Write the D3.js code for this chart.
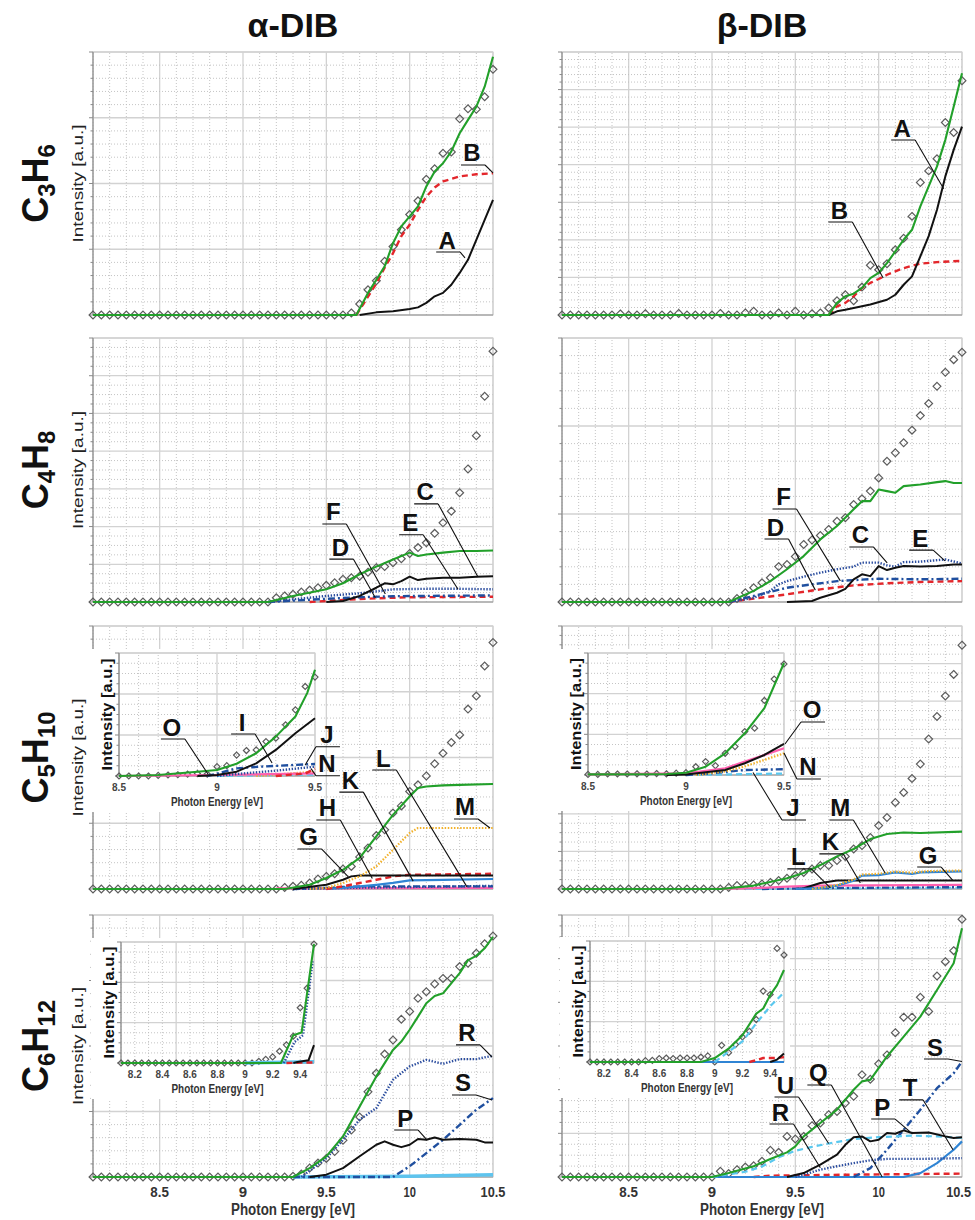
<!DOCTYPE html>
<html>
<head>
<meta charset="utf-8">
<script src="https://cdn.jsdelivr.net/npm/d3@7"></script>
<style>
  body { margin: 0; background: #fff; }
  svg text { font-family: "Liberation Sans", Arial, Helvetica, sans-serif; fill: #111; }
</style>
</head>
<body>
<svg id="fig" width="975" height="1220"></svg>
<script>
// ---------- data (intensity as fraction of the panel's full scale) ----------
const STEP = 0.05;                // experimental points every 0.05 eV
const MAIN_START = 8.1;
const columnTitles = ['α-DIB', 'β-DIB'];
const rowNames = [['C', '3', 'H', '6'], ['C', '4', 'H', '8'], ['C', '5', 'H', '10'], ['C', '6', 'H', '12']];
const mainTicks = [8.5, 9, 9.5, 10, 10.5];

// --- C3H6 ---
const c3h6AlphaPts = [0,0,0,0,0,0,0,0,0,0, 0,0,0,0,0,0,0,0,0,0, 0,0,0,0,0,0,0,0,0,0,
  0,0.008, 0.042,0.096,0.13,0.204,0.26,0.324,0.382,0.434,0.516,0.556,0.615,0.62,0.746,0.784,0.782,0.83,0.934];
const c3h6AlphaFit = [[8.1,0],[9.68,0],[9.75,0.084],[9.8,0.134],[9.85,0.185],[9.9,0.273],[9.95,0.337],[10,0.375],[10.05,0.413],[10.1,0.489],[10.15,0.546],[10.2,0.577],[10.25,0.622],[10.3,0.691],[10.35,0.742],[10.4,0.792],[10.45,0.868],[10.5,0.982]];
const c3h6AlphaB = [[9.68,0],[9.75,0.07],[9.8,0.12],[9.85,0.18],[9.9,0.235],[9.95,0.3],[10,0.343],[10.05,0.4],[10.1,0.45],[10.15,0.485],[10.2,0.508],[10.3,0.527],[10.4,0.535],[10.5,0.539]];
const c3h6AlphaA = [[9.7,0],[9.8,0.01],[9.9,0.014],[10,0.023],[10.05,0.029],[10.1,0.046],[10.15,0.071],[10.2,0.084],[10.25,0.115],[10.3,0.16],[10.35,0.21],[10.4,0.286],[10.45,0.362],[10.5,0.438]];
const c3h6AlphaLabels = [['B',10.374,0.616,10.5,0.54],['A',10.225,0.285,10.332,0.217]];

const c3h6BetaPts = [0,0,0,0,0,0,0,0.004,0,0, 0.005,0,0,0,0.006,0,0,0,0,0.006, 0,0,0.008,0.014,0,0,0.008,0,0.014,0,
  0.005,0.008, 0.027,0.054,0.077,0.054,0.106,0.189,0.172,0.195,0.248,0.292,0.375,0.504,0.548,0.594,0.732,0.694,0.891];
const c3h6BetaFit = [[8.1,0],[9.7,0],[9.75,0.046],[9.8,0.071],[9.85,0.081],[9.9,0.103],[9.95,0.14],[10,0.16],[10.05,0.197],[10.1,0.242],[10.15,0.286],[10.2,0.324],[10.25,0.413],[10.3,0.489],[10.35,0.565],[10.4,0.666],[10.45,0.792],[10.5,0.919]];
const c3h6BetaB = [[9.7,0],[9.75,0.033],[9.8,0.046],[9.85,0.071],[9.9,0.103],[9.95,0.122],[10,0.137],[10.05,0.153],[10.1,0.166],[10.15,0.178],[10.2,0.187],[10.25,0.195],[10.35,0.201],[10.5,0.206]];
const c3h6BetaA = [[9.7,0],[9.75,0.014],[9.8,0.02],[9.85,0.027],[9.95,0.04],[10.05,0.058],[10.1,0.077],[10.15,0.115],[10.2,0.147],[10.25,0.223],[10.3,0.3],[10.35,0.4],[10.4,0.527],[10.45,0.628],[10.5,0.716]];
const c3h6BetaLabels = [['A',10.141,0.711,10.39,0.48],['B',9.764,0.399,10.027,0.141]];

// --- C4H8 ---
const c4h8AlphaPts = [0,0,0,0,0,0,0,0,0,0, 0,0,0,0,0,0,0,0,0,0, 0,0,
  0.016,0.023,0.029,0.038,0.045,0.054,0.063,0.073,0.086,0.092,0.098,0.113,0.13,0.134,0.149,0.164,0.184,0.206,0.224,0.26,0.3,0.344,0.414,0.504,0.63,0.779,0.95];
const c4h8AlphaFit = [[8.1,0],[9.15,0],[9.3,0.023],[9.5,0.048],[9.6,0.071],[9.7,0.105],[9.8,0.134],[9.9,0.161],[10,0.187],[10.05,0.174],[10.1,0.18],[10.2,0.187],[10.3,0.193],[10.4,0.193],[10.5,0.195]];
const c4h8AlphaC = [[9.5,0],[9.6,0.004],[9.7,0.023],[9.8,0.054],[9.85,0.071],[9.9,0.067],[9.95,0.079],[10,0.096],[10.05,0.083],[10.1,0.088],[10.2,0.092],[10.3,0.092],[10.4,0.096],[10.5,0.098]];
const c4h8AlphaE = [[9.15,0],[9.3,0.01],[9.5,0.023],[9.7,0.033],[9.9,0.048],[10.1,0.05],[10.3,0.05],[10.5,0.048]];
const c4h8AlphaF = [[9.15,0],[9.5,0.012],[9.7,0.018],[9.9,0.022],[10.5,0.025]];
const c4h8AlphaD = [[9.4,0],[9.6,0.008],[9.8,0.014],[10,0.018],[10.5,0.02]];
const c4h8AlphaLabels = [['C',10.093,0.417,10.41,0.095],['E',10.003,0.3,10.29,0.048],['F',9.542,0.341,9.854,0.03],['D',9.584,0.208,9.794,0.016]];

const c4h8BetaPts = [0,0,0,0,0,0,0,0,0,0, 0,0,0,0,0,0,0,0,0,0, 0,
  0.013,0.035,0.054,0.073,0.092,0.134,0.142,0.172,0.218,0.235,0.252,0.275,0.306,0.319,0.369,0.391,0.42,0.47,0.533,0.565,0.603,0.651,0.706,0.752,0.817,0.87,0.918,0.946];
const c4h8BetaFit = [[8.1,0],[9.1,0],[9.25,0.042],[9.35,0.079],[9.45,0.124],[9.55,0.174],[9.65,0.237],[9.75,0.288],[9.85,0.351],[9.9,0.382],[9.95,0.382],[10,0.426],[10.05,0.42],[10.1,0.414],[10.15,0.439],[10.25,0.445],[10.35,0.454],[10.4,0.458],[10.45,0.451],[10.5,0.451]];
const c4h8BetaE = [[9.1,0],[9.25,0.016],[9.35,0.042],[9.4,0.067],[9.45,0.079],[9.55,0.096],[9.65,0.111],[9.75,0.124],[9.85,0.134],[9.9,0.149],[10,0.149],[10.05,0.139],[10.1,0.134],[10.15,0.151],[10.25,0.153],[10.4,0.161],[10.5,0.146]];
const c4h8BetaC = [[9.45,0],[9.6,0.004],[9.65,0.016],[9.75,0.035],[9.8,0.05],[9.85,0.086],[9.9,0.105],[9.95,0.098],[10,0.136],[10.05,0.121],[10.1,0.13],[10.15,0.136],[10.25,0.134],[10.35,0.136],[10.45,0.142],[10.5,0.142]];
const c4h8BetaF = [[9.1,0],[9.25,0.023],[9.45,0.054],[9.6,0.067],[9.75,0.079],[9.85,0.083],[10,0.088],[10.25,0.086],[10.5,0.088]];
const c4h8BetaD = [[9.1,0],[9.25,0.013],[9.45,0.029],[9.65,0.048],[9.85,0.063],[10.05,0.071],[10.25,0.076],[10.5,0.079]];
const c4h8BetaLabels = [['F',9.429,0.398,9.77,0.08],['D',9.381,0.284,9.62,0.045],['C',9.89,0.254,10.051,0.148],['E',10.249,0.242,10.398,0.156]];

// --- C5H10 ---
const c5h10AlphaPts = [0,0,0,0,0,0,0,0,0,0, 0,0,0,0,0,0,0,0,0,0, 0,0,0,
  0.006,0.01,0.014,0.023,0.038,0.048,0.058,0.076,0.086,0.122,0.156,0.203,0.225,0.289,0.316,0.371,0.396,0.43,0.476,0.516,0.557,0.586,0.684,0.734,0.848,0.937];
const c5h10AlphaFit = [[8.1,0],[9.25,0],[9.4,0.016],[9.5,0.042],[9.6,0.073],[9.7,0.118],[9.8,0.2],[9.9,0.282],[10,0.352],[10.05,0.384],[10.1,0.39],[10.2,0.394],[10.3,0.396],[10.5,0.399]];
const c5h10AlphaM = [[9.4,0],[9.5,0.004],[9.6,0.023],[9.7,0.048],[9.8,0.086],[9.9,0.149],[10,0.213],[10.05,0.232],[10.1,0.232],[10.5,0.232]];
const c5h10AlphaG = [[9.3,0],[9.5,0.016],[9.6,0.035],[9.65,0.048],[9.7,0.051],[10.5,0.051]];
const c5h10AlphaH = [[9.5,0],[9.6,0.01],[9.7,0.023],[9.8,0.035],[9.9,0.048],[10,0.054],[10.5,0.058]];
const c5h10AlphaK = [[9.5,0],[9.6,0.004],[9.8,0.016],[9.9,0.023],[10,0.033],[10.2,0.035],[10.5,0.038]];
const c5h10AlphaL = [[9.3,0],[9.5,0.004],[9.7,0.01],[10.5,0.01]];
const c5h10AlphaN = [[9.3,0],[9.7,0.005],[10.5,0.012]];
const c5h10AlphaO = [[9.2,0.002],[10.5,0.004]];
const c5h10AlphaLabels = [['L',9.842,0.498,10.344,0.008],['K',9.644,0.414,10.021,0.03],['H',9.506,0.308,9.776,0.04],['G',9.393,0.198,9.632,0.046],['M',10.332,0.312,10.482,0.232]];

const c5h10AlphaInsetPts = [0,0,0,0,0.005,0.008,0.01,0.015,0.02,0.016,0.076,0.084,0.17,0.207,0.212,0.28,0.307,0.416,0.538,0.728,0.804];
const c5h10AlphaInsetFit = [[8.5,0],[8.7,0.008],[8.9,0.035],[9,0.049],[9.1,0.1],[9.2,0.185],[9.3,0.32],[9.4,0.484],[9.46,0.674],[9.5,0.864]];
const c5h10AlphaInsetI = [[8.9,0],[9,0.008],[9.1,0.035],[9.2,0.103],[9.3,0.212],[9.4,0.348],[9.5,0.47]];
const c5h10AlphaInsetJ = [[8.95,0],[9,0.02],[9.1,0.062],[9.22,0.076],[9.5,0.098]];
const c5h10AlphaInsetN = [[9,0],[9.1,0.016],[9.3,0.043],[9.5,0.076]];
const c5h10AlphaInsetO = [[8.5,0],[9,0.008],[9.5,0.022]];
const c5h10AlphaInsetRed = [[9.3,0],[9.45,0.02],[9.5,0.06]];
const c5h10AlphaInsetOrange = [[9.2,0],[9.5,0.035]];
const c5h10AlphaInsetCyan = [[9,0],[9.5,0.012]];
const c5h10AlphaInsetLabels = [['O',8.77,0.398,8.954,0.016],['I',9.128,0.439,9.281,0.106],['J',9.561,0.335,9.45,0.09],['N',9.561,0.1,9.48,0.06]];

const c5h10BetaPts = [0,0,0,0,0,0,0,0,0,0, 0,0,0,0,0,0,0,0,0,0,
  0.006,0.013,0.013,0.015,0.019,0.025,0.032,0.041,0.051,0.063,0.076,0.089,0.089,0.108,0.124,0.152,0.165,0.196,0.241,0.272,0.329,0.367,0.42,0.475,0.57,0.656,0.734,0.816,0.927];
const c5h10BetaFit = [[8.1,0],[9.05,0],[9.25,0.013],[9.45,0.041],[9.55,0.061],[9.65,0.091],[9.75,0.124],[9.85,0.152],[9.95,0.19],[10.05,0.209],[10.15,0.215],[10.25,0.213],[10.5,0.218]];
const c5h10BetaK = [[9.5,0],[9.65,0.003],[9.75,0.013],[9.85,0.032],[9.9,0.051],[10,0.053],[10.1,0.063],[10.2,0.057],[10.25,0.063],[10.5,0.067]];
const c5h10BetaM = [[9.6,0],[9.75,0.015],[9.85,0.036],[9.9,0.055],[10,0.058],[10.1,0.066],[10.2,0.062],[10.3,0.068],[10.5,0.07]];
const c5h10BetaG = [[9.5,0],[9.55,0.003],[9.65,0.023],[9.75,0.032],[10.5,0.032]];
const c5h10BetaPink = [[9,0],[9.25,0.003],[9.45,0.009],[9.65,0.013],[10.5,0.016]];
const c5h10BetaCyan = [[9.2,0],[10.5,0.005]];
const c5h10BetaL = [[9.3,0],[9.7,0.004],[10.5,0.007]];
const c5h10BetaLabels = [['M',9.77,0.308,10.039,0.061],['K',9.71,0.179,9.89,0.023],['L',9.518,0.122,9.71,0.004],['G',10.297,0.129,10.446,0.032]];

const c5h10BetaInsetPts = [0.005,0.005,0.008,0.008,0.008,0.01,0.008,0.012,0.01,0.015,0.019,0.068,0.11,0.077,0.178,0.233,0.356,0.384,0.611,0.786,0.91];
const c5h10BetaInsetFit = [[8.5,0.005],[8.9,0.008],[9,0.019],[9.1,0.068],[9.2,0.178],[9.3,0.342],[9.4,0.548],[9.5,0.918]];
const c5h10BetaInsetO = [[8.9,0],[9,0.005],[9.2,0.041],[9.3,0.096],[9.4,0.164],[9.5,0.255]];
const c5h10BetaInsetPink = [[8.5,0.005],[9,0.014],[9.2,0.055],[9.3,0.11],[9.5,0.219]];
const c5h10BetaInsetN = [[9.05,0],[9.2,0.03],[9.3,0.07],[9.5,0.178]];
const c5h10BetaInsetJ = [[9,0],[9.1,0.01],[9.3,0.041],[9.5,0.047]];
const c5h10BetaInsetCyan = [[9,0],[9.5,0.012]];
const c5h10BetaInsetLabels = [['O',9.643,0.533,9.505,0.254],['N',9.622,0.066,9.5,0.18],['J',9.546,-0.27,9.342,0.02]];

// --- C6H12 ---
const c6h12AlphaPts = [0,0,0,0,0,0,0,0,0,0, 0,0,0,0,0,0,0,0,0,0, 0,0,0,0,
  0.003,0.011,0.034,0.053,0.071,0.097,0.14,0.179,0.229,0.325,0.396,0.469,0.523,0.602,0.632,0.682,0.707,0.737,0.758,0.758,0.803,0.816,0.854,0.89,0.92];
const c6h12AlphaFit = [[8.1,0],[9.3,0],[9.4,0.034],[9.5,0.079],[9.6,0.155],[9.7,0.269],[9.8,0.384],[9.9,0.485],[9.95,0.517],[10,0.562],[10.05,0.612],[10.1,0.663],[10.15,0.691],[10.2,0.701],[10.3,0.778],[10.35,0.828],[10.4,0.844],[10.45,0.873],[10.5,0.917]];
const c6h12AlphaR = [[9.35,0],[9.5,0.072],[9.6,0.142],[9.7,0.219],[9.8,0.263],[9.9,0.371],[10,0.422],[10.1,0.447],[10.2,0.432],[10.3,0.45],[10.4,0.45],[10.5,0.463]];
const c6h12AlphaP = [[9.4,0],[9.5,0.009],[9.6,0.034],[9.7,0.079],[9.8,0.123],[9.85,0.136],[9.9,0.123],[9.95,0.114],[10,0.123],[10.05,0.145],[10.1,0.142],[10.15,0.151],[10.2,0.142],[10.3,0.145],[10.4,0.142],[10.45,0.132],[10.5,0.132]];
const c6h12AlphaS = [[9.3,0],[9.9,0],[10,0.041],[10.1,0.091],[10.2,0.142],[10.3,0.199],[10.4,0.257],[10.5,0.301]];
const c6h12AlphaSky = [[9.3,0],[10,0.003],[10.5,0.009]];
const c6h12AlphaLabels = [['R',10.344,0.55,10.494,0.458],['S',10.32,0.359,10.494,0.294],['P',9.973,0.225,10.105,0.141]];

const c6h12AlphaInsetPts = [0,0,0,0,0,0,0,0,0,0, 0,0,0,0,0,0,0,0,0,0,
  0.014,0.03,0.05,0.097,0.15,0.222,0.457,0.618,0.983];
const c6h12AlphaInsetFit = [[8.1,0],[9.26,0],[9.35,0.23],[9.41,0.252],[9.5,0.983]];
const c6h12AlphaInsetR = [[9.28,0],[9.36,0.175],[9.42,0.23],[9.49,0.84]];
const c6h12AlphaInsetP = [[9.35,0],[9.38,0.008],[9.46,0.022],[9.5,0.147]];
const c6h12AlphaInsetSky = [[9,0],[9.5,0.01]];
const c6h12AlphaInsetRed = [[9.3,0],[9.5,0.005]];

const c6h12BetaPts = [0,0,0,0,0,0,0,0,0,0, 0,0,0,0,0,0,0,0,0,
  0.022,0.013,0.028,0.038,0.043,0.06,0.102,0.094,0.155,0.145,0.155,0.196,0.206,0.238,0.25,0.282,0.308,0.39,0.373,0.432,0.466,0.551,0.61,0.61,0.686,0.632,0.767,0.822,0.864,0.984];
const c6h12BetaFit = [[8.1,0],[9,0],[9.1,0.015],[9.25,0.041],[9.35,0.069],[9.45,0.094],[9.5,0.117],[9.55,0.155],[9.65,0.206],[9.75,0.257],[9.85,0.333],[9.9,0.365],[9.95,0.371],[10.05,0.46],[10.15,0.536],[10.25,0.612],[10.35,0.714],[10.45,0.816],[10.5,0.949]];
const c6h12BetaU = [[9,0],[9.2,0.02],[9.3,0.04],[9.4,0.075],[9.5,0.1],[9.6,0.115],[9.7,0.128],[9.85,0.145],[10,0.152],[10.2,0.158],[10.35,0.155],[10.5,0.149]];
const c6h12BetaQ = [[9.45,0],[9.55,0.015],[9.65,0.047],[9.75,0.085],[9.8,0.123],[9.85,0.152],[9.9,0.155],[9.95,0.136],[10,0.142],[10.05,0.168],[10.1,0.165],[10.15,0.178],[10.2,0.168],[10.3,0.17],[10.4,0.155],[10.45,0.149],[10.5,0.152]];
const c6h12BetaR = [[9.5,0],[9.65,0.028],[9.75,0.041],[9.85,0.053],[9.95,0.064],[10.05,0.069],[10.25,0.069],[10.5,0.072]];
const c6h12BetaS = [[9.85,0],[9.95,0.034],[10.05,0.104],[10.15,0.18],[10.25,0.257],[10.35,0.339],[10.45,0.396],[10.5,0.441]];
const c6h12BetaT = [[9,0],[10.15,0],[10.25,0.015],[10.35,0.053],[10.45,0.104],[10.5,0.136]];
const c6h12BetaRed = [[9.25,0],[9.35,0.005],[9.85,0.009],[10.5,0.013]];
const c6h12BetaLabels = [['S',10.338,0.496,10.5,0.441],['T',10.189,0.34,10.446,0.104],['P',10.021,0.267,10.189,0.172],['Q',9.638,0.397,10.021,0],['U',9.441,0.351,9.7,0.128],['R',9.411,0.248,9.65,0.035]];

const c6h12BetaInsetPts = [0,0,0,0,0,0,0,0,
  0.011,0.014,0.028,0.033,0.028,0.033,0.033,0.033,0.041,0.05,0,0.138,0.077,0.144,0.207,0.254,0.351,0.586,0.558,0.939,0.884];
const c6h12BetaInsetFit = [[8.1,0],[8.9,0],[9,0.033],[9.1,0.11],[9.2,0.221],[9.3,0.4],[9.35,0.442],[9.4,0.552],[9.45,0.635],[9.5,0.76]];
const c6h12BetaInsetU = [[9,0],[9.2,0.17],[9.3,0.32],[9.35,0.39],[9.4,0.46],[9.5,0.575]];
const c6h12BetaInsetRed = [[9.25,0],[9.3,0.015],[9.35,0.033],[9.45,0.033],[9.5,0.04]];
const c6h12BetaInsetQ = [[9.4,0],[9.45,0.02],[9.5,0.07]];
const c6h12BetaInsetT = [[8.9,0],[9.5,0]];

const insetTicksWide = [8.2, 8.4, 8.6, 8.8, 9, 9.2, 9.4];
const insetTicksNarrow = [8.5, 9, 9.5];

// ---------- styles ----------
const STYLE = {
  green:   { stroke: '#22a02a', width: 2.1 },
  black:   { stroke: '#111111', width: 2 },
  red:     { stroke: '#e3262b', width: 2.4, dash: '6,4' },
  navyDot: { stroke: '#2a4c9e', width: 2.4, dash: '1.4,1.6' },
  navyDD:  { stroke: '#1f4f9f', width: 2.4, dash: '7,3,2,3' },
  blue:    { stroke: '#2f84d4', width: 2.2 },
  cyan:    { stroke: '#5ac8ef', width: 2.2, dash: '6,4' },
  orange:  { stroke: '#f2b12a', width: 2.2, dash: '1.5,1.6' },
  pink:    { stroke: '#ff5fae', width: 2.2 },
  sky:     { stroke: '#5ec4ee', width: 3.5 }
};

const COLS = [{ x: 93, w: 400 }, { x: 562, w: 400 }];
const ROWS = [{ y: 52, h: 263 }, { y: 338, h: 264 }, { y: 626, h: 263 }, { y: 915, h: 262 }];
const PAGE_W = 975;

const panels = [
  { r: 0, c: 0, pts: c3h6AlphaPts, yDiv: 4, yMinor: 5, labels: c3h6AlphaLabels,
    series: [['red', c3h6AlphaB], ['black', c3h6AlphaA], ['green', c3h6AlphaFit]] },
  { r: 0, c: 1, pts: c3h6BetaPts, yDiv: 7, yMinor: 5, labels: c3h6BetaLabels,
    series: [['red', c3h6BetaB], ['black', c3h6BetaA], ['green', c3h6BetaFit]] },
  { r: 1, c: 0, pts: c4h8AlphaPts, yDiv: 7, yMinor: 4, labels: c4h8AlphaLabels,
    series: [['red', c4h8AlphaD], ['navyDD', c4h8AlphaF], ['navyDot', c4h8AlphaE], ['black', c4h8AlphaC], ['green', c4h8AlphaFit]] },
  { r: 1, c: 1, pts: c4h8BetaPts, yDiv: 3, yMinor: 5, labels: c4h8BetaLabels,
    series: [['red', c4h8BetaD], ['navyDD', c4h8BetaF], ['navyDot', c4h8BetaE], ['black', c4h8BetaC], ['green', c4h8BetaFit]] },
  { r: 2, c: 0, pts: c5h10AlphaPts, yDiv: 4, yMinor: 5, labels: c5h10AlphaLabels,
    series: [['pink', c5h10AlphaO], ['navyDot', c5h10AlphaN], ['navyDD', c5h10AlphaL], ['blue', c5h10AlphaK],
             ['red', c5h10AlphaH], ['black', c5h10AlphaG], ['orange', c5h10AlphaM], ['green', c5h10AlphaFit]],
    inset: { box: { x: 119, y: 653, w: 196, h: 123 }, domain: [8.5, 9.5], ticks: insetTicksNarrow, pts: c5h10AlphaInsetPts,
      labels: c5h10AlphaInsetLabels,
      series: [['cyan', c5h10AlphaInsetCyan], ['orange', c5h10AlphaInsetOrange], ['pink', c5h10AlphaInsetO], ['red', c5h10AlphaInsetRed],
               ['navyDot', c5h10AlphaInsetN], ['navyDD', c5h10AlphaInsetJ], ['black', c5h10AlphaInsetI], ['green', c5h10AlphaInsetFit]] } },
  { r: 2, c: 1, pts: c5h10BetaPts, yDiv: 7, yMinor: 4, labels: c5h10BetaLabels,
    series: [['cyan', c5h10BetaCyan], ['navyDD', c5h10BetaL], ['pink', c5h10BetaPink], ['black', c5h10BetaG],
             ['blue', c5h10BetaK], ['orange', c5h10BetaM], ['green', c5h10BetaFit]],
    inset: { box: { x: 588, y: 653, w: 196, h: 122 }, domain: [8.5, 9.5], ticks: insetTicksNarrow, pts: c5h10BetaInsetPts,
      labels: c5h10BetaInsetLabels,
      series: [['cyan', c5h10BetaInsetCyan], ['navyDD', c5h10BetaInsetJ], ['orange', c5h10BetaInsetN], ['pink', c5h10BetaInsetPink],
               ['black', c5h10BetaInsetO], ['green', c5h10BetaInsetFit]] } },
  { r: 3, c: 0, pts: c6h12AlphaPts, yDiv: 4, yMinor: 5, labels: c6h12AlphaLabels,
    series: [['sky', c6h12AlphaSky], ['navyDD', c6h12AlphaS], ['black', c6h12AlphaP], ['navyDot', c6h12AlphaR], ['green', c6h12AlphaFit]],
    inset: { box: { x: 121, y: 942, w: 193, h: 121 }, domain: [8.1, 9.5], ticks: insetTicksWide, pts: c6h12AlphaInsetPts,
      labels: [],
      series: [['sky', c6h12AlphaInsetSky], ['red', c6h12AlphaInsetRed], ['black', c6h12AlphaInsetP],
               ['navyDot', c6h12AlphaInsetR], ['green', c6h12AlphaInsetFit]] } },
  { r: 3, c: 1, pts: c6h12BetaPts, yDiv: 6, yMinor: 4, labels: c6h12BetaLabels,
    series: [['red', c6h12BetaRed], ['blue', c6h12BetaT], ['navyDD', c6h12BetaS], ['navyDot', c6h12BetaR],
             ['cyan', c6h12BetaU], ['black', c6h12BetaQ], ['green', c6h12BetaFit]],
    inset: { box: { x: 590, y: 941, w: 194, h: 121 }, domain: [8.1, 9.5], ticks: insetTicksWide, pts: c6h12BetaInsetPts,
      labels: [],
      series: [['blue', c6h12BetaInsetT], ['red', c6h12BetaInsetRed], ['black', c6h12BetaInsetQ],
               ['cyan', c6h12BetaInsetU], ['green', c6h12BetaInsetFit]] } }
];

// ---------- drawing ----------
const svg = d3.select('#fig');

function drawGrid(g, x, y, yDiv, yMinor) {
  const [x0, x1] = x.domain();
  const xs = d3.range(Math.round(x0 * 10), Math.round(x1 * 10) + 1);
  g.append('g').selectAll('line').data(xs).join('line')
    .attr('x1', d => x(d / 10)).attr('x2', d => x(d / 10))
    .attr('y1', y(0)).attr('y2', y(1))
    .attr('stroke', d => d % 5 === 0 ? '#d2d2d2' : '#bdbdbd')
    .attr('stroke-width', d => d % 5 === 0 ? 1.3 : 0.9)
    .attr('stroke-dasharray', d => d % 5 === 0 ? null : '1,2');
  const n = yDiv * yMinor;
  g.append('g').selectAll('line').data(d3.range(1, n + 1)).join('line')
    .attr('x1', x(x0)).attr('x2', x(x1))
    .attr('y1', k => y(k / n)).attr('y2', k => y(k / n))
    .attr('stroke', k => k % yMinor === 0 ? '#d2d2d2' : '#bdbdbd')
    .attr('stroke-width', k => k % yMinor === 0 ? 1.3 : 0.9)
    .attr('stroke-dasharray', k => k % yMinor === 0 ? null : '1,2');
  // frame
  g.append('rect')
    .attr('x', x(x0)).attr('y', y(1))
    .attr('width', x(x1) - x(x0)).attr('height', y(0) - y(1))
    .attr('fill', 'none').attr('stroke', '#cfcfcf');
  // left and bottom axis lines, left ticks
  g.append('line').attr('x1', x(x0)).attr('x2', x(x0)).attr('y1', y(0)).attr('y2', y(1))
    .attr('stroke', '#8a8a8a').attr('stroke-width', 1.2);
  g.append('line').attr('x1', x(x0)).attr('x2', x(x1)).attr('y1', y(0)).attr('y2', y(0))
    .attr('stroke', '#8a8a8a').attr('stroke-width', 1.2);
  g.append('g').selectAll('line').data(d3.range(0, n + 1)).join('line')
    .attr('x1', x(x0)).attr('x2', k => x(x0) - (k % yMinor === 0 ? 4 : 2.5))
    .attr('y1', k => y(k / n)).attr('y2', k => y(k / n))
    .attr('stroke', '#8a8a8a');
}

function drawDiamonds(g, x, y, pts, start, r) {
  g.append('g').selectAll('path').data(pts).join('path')
    .attr('d', `M0,${-r}L${r},0L0,${r}L${-r},0Z`)
    .attr('transform', (d, i) => `translate(${x(start + i * STEP)},${y(d)})`)
    .attr('fill', 'none').attr('stroke', '#5c5c5c').attr('stroke-width', 1.2);
}

function drawSeries(g, x, y, series) {
  const line = d3.line().x(d => x(d[0])).y(d => y(d[1]));
  series.forEach(([key, data]) => {
    const s = STYLE[key];
    g.append('path').datum(data).attr('d', line)
      .attr('fill', 'none').attr('stroke', s.stroke).attr('stroke-width', s.width)
      .attr('stroke-dasharray', s.dash || null)
      .attr('stroke-linejoin', 'round');
  });
}

function drawLabels(g, x, y, labels) {
  labels.forEach(([t, lx, ly, tx, ty]) => {
    const cx = x(lx), cy = y(ly), px = x(tx), py = y(ty);
    g.append('text').attr('x', cx).attr('y', cy + 8.5)
      .attr('text-anchor', 'middle').attr('font-size', 24).attr('font-weight', 'bold')
      .text(t);
    const ux0 = cx - 11, ux1 = cx + 13, uy = cy + 12;
    const sx = px < cx ? ux0 : ux1;
    g.append('path').attr('d', `M${ux0},${uy}H${ux1}M${sx},${uy}L${px},${py}`)
      .attr('fill', 'none').attr('stroke', '#111').attr('stroke-width', 1.1);
  });
}

function drawInset(g, inset) {
  const b = inset.box;
  const x = d3.scaleLinear().domain(inset.domain).range([b.x, b.x + b.w]);
  const y = d3.scaleLinear().domain([0, 1]).range([b.y + b.h, b.y]);
  g.append('rect').attr('x', b.x - 30).attr('y', b.y - 4)
    .attr('width', b.w + 36).attr('height', b.h + 40).attr('fill', '#fff');
  drawGrid(g, x, y, 3, 4);
  drawDiamonds(g, x, y, inset.pts, inset.domain[0], 3);
  drawSeries(g, x, y, inset.series);
  g.append('g').selectAll('text').data(inset.ticks).join('text')
    .attr('x', d => x(d)).attr('y', b.y + b.h + 15)
    .attr('text-anchor', 'middle').attr('font-size', 10).attr('font-weight', 'bold')
    .style('fill', '#444').text(d => d);
  g.append('text').attr('x', b.x + b.w / 2).attr('y', b.y + b.h + 30)
    .attr('text-anchor', 'middle').attr('font-size', 12).attr('font-weight', 'bold')
    .attr('textLength', 92).attr('lengthAdjust', 'spacingAndGlyphs')
    .style('fill', '#333').text('Photon Energy [eV]');
  g.append('text')
    .attr('transform', `translate(${b.x - 7},${b.y + b.h / 2}) rotate(-90)`)
    .attr('text-anchor', 'middle').attr('font-size', 15).attr('font-weight', 'bold')
    .attr('textLength', 112).attr('lengthAdjust', 'spacingAndGlyphs')
    .text('Intensity [a.u.]');
  return { x, y };
}

// column titles
columnTitles.forEach((t, c) => {
  svg.append('text').attr('x', COLS[c].x + COLS[c].w / 2).attr('y', 37)
    .attr('text-anchor', 'middle').attr('font-size', 34).attr('font-weight', 'bold').text(t);
});

// row names with subscripts, and the y-axis title of the left column
rowNames.forEach((nm, r) => {
  const cy = ROWS[r].y + ROWS[r].h / 2;
  const t = svg.append('text')
    .attr('transform', `translate(48,${cy}) rotate(-90)`)
    .attr('text-anchor', 'middle').attr('font-weight', 'bold').attr('font-size', 36);
  t.append('tspan').text(nm[0]);
  t.append('tspan').attr('font-size', 24).attr('dy', 7).text(nm[1]);
  t.append('tspan').attr('dy', -7).text(nm[2]);
  t.append('tspan').attr('font-size', 24).attr('dy', 7).text(nm[3]);
  svg.append('text')
    .attr('transform', `translate(83,${cy}) rotate(-90)`)
    .attr('text-anchor', 'middle').attr('font-size', 14)
    .attr('textLength', 118).attr('lengthAdjust', 'spacingAndGlyphs')
    .style('fill', '#222').text('Intensity [a.u.]');
});

panels.forEach(p => {
  const col = COLS[p.c], row = ROWS[p.r];
  const g = svg.append('g');
  const x = d3.scaleLinear().domain([8.1, 10.5]).range([col.x, col.x + col.w]);
  const y = d3.scaleLinear().domain([0, 1]).range([row.y + row.h, row.y]);
  drawGrid(g, x, y, p.yDiv, p.yMinor);
  drawDiamonds(g, x, y, p.pts, MAIN_START, 3.9);
  drawSeries(g, x, y, p.series);
  let ins = null;
  if (p.inset) ins = drawInset(g, p.inset);
  drawLabels(g, x, y, p.labels);
  if (ins) drawLabels(g, ins.x, ins.y, p.inset.labels);

  if (p.r === 3) {
    const len = d => String(d).length > 1 ? String(d).length * 6.2 : null;
    g.append('g').selectAll('text').data(mainTicks).join('text')
      .attr('x', d => Math.min(x(d), PAGE_W - (len(d) || 8) / 2 - 4))
      .attr('y', row.y + row.h + 20)
      .attr('text-anchor', 'middle').attr('font-size', 15).attr('font-weight', 'bold')
      .attr('textLength', len)
      .attr('lengthAdjust', 'spacingAndGlyphs')
      .style('fill', '#333').text(d => d);
    g.append('text').attr('x', col.x + col.w / 2).attr('y', row.y + row.h + 38)
      .attr('text-anchor', 'middle').attr('font-size', 16).attr('font-weight', 'bold')
      .attr('textLength', 124).attr('lengthAdjust', 'spacingAndGlyphs')
      .style('fill', '#333').text('Photon Energy [eV]');
  }
});
</script>
</body>
</html>
